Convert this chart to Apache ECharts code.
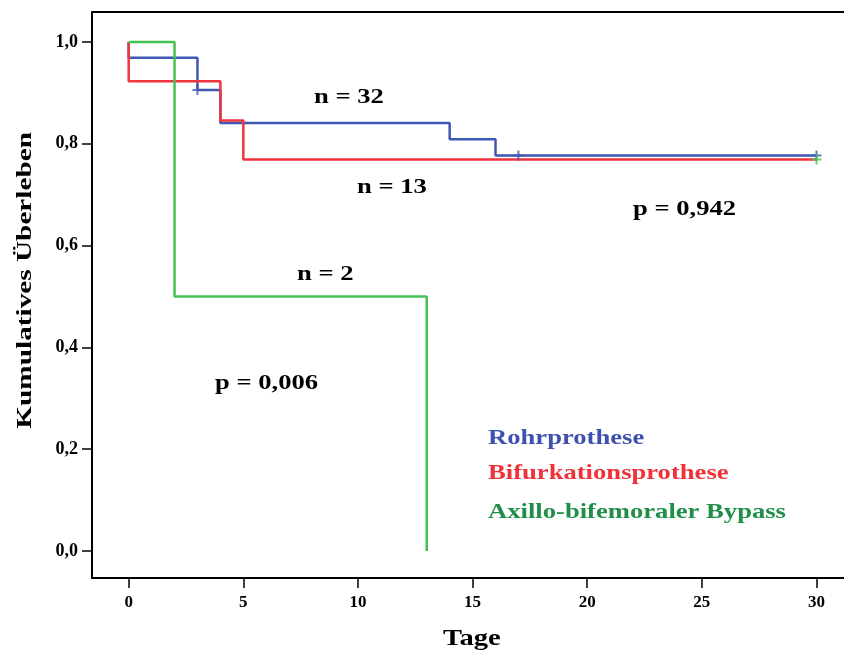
<!DOCTYPE html>
<html>
<head>
<meta charset="utf-8">
<script src="https://cdn.jsdelivr.net/npm/echarts@6/dist/echarts.min.js"></script>
<style>html,body{margin:0;padding:0;background:#fff}#c{width:844px;height:657px}</style>
</head>
<body>
<div id="c"></div>
<script>
// Kaplan-Meier step points [time (Tage), cumulative survival]
const rohrTimes = [0, 0, 3, 4, 14, 16, 30];
const rohrSurv  = [1, 0.969, 0.906, 0.841, 0.809, 0.777, 0.777];
const bifTimes  = [0, 0, 4, 5, 30];
const bifSurv   = [1, 0.923, 0.846, 0.769, 0.769];
const axTimes   = [0, 2, 13];
const axSurv    = [1, 0.5, 0];
// censored observations
const rohrCensorT = [3, 17, 30];
const rohrCensorS = [0.906, 0.777, 0.777];
const bifCensorT  = [30];
const bifCensorS  = [0.769];
const xTicks = [0, 5, 10, 15, 20, 25, 30];
const yTicks = [0, 0.2, 0.4, 0.6, 0.8, 1.0];
const groupNames = ['Rohrprothese', 'Bifurkationsprothese', 'Axillo-bifemoraler Bypass'];
const annotations = ['n = 32', 'n = 13', 'n = 2', 'p = 0,942', 'p = 0,006'];
const xTitle = 'Tage';
const yTitle = 'Kumulatives Überleben';

const zip = (a, b) => a.map((v, i) => [v, b[i]]);
const FONT = '"Liberation Serif", "Times New Roman", serif';
const cBlue = '#3f56b3', cRed = '#f0363c', cGreen = '#45c24f';
const plus = 'path://M4,0h2v4h4v2h-4v4h-2v-4h-4v-2h4z';

const chart = echarts.init(document.getElementById('c'));
const lineSeries = (data, color, z) => ({
  type: 'line', data, step: 'end', showSymbol: false, z,
  lineStyle: { color, width: 2.5 }, animation: false
});
const censor = (data, color) => ({
  type: 'scatter', data, symbol: plus, symbolSize: 10, z: 5,
  itemStyle: { color }, animation: false
});
const txt = (text, x, y, color, size, sx, rot) => ({
  type: 'text', left: x, top: y, scaleX: sx || 1.21, rotation: rot || 0,
  style: { text, fill: color, font: 'bold ' + size + 'px ' + FONT }
});

chart.setOption({
  backgroundColor: '#fff',
  grid: { left: 92, top: 12, right: 0, bottom: 79 },
  xAxis: [{
    type: 'value', min: -1.6, max: 31.2,
    axisLine: { onZero: false, lineStyle: { color: '#000', width: 2 } },
    axisTick: { customValues: xTicks, length: 10, lineStyle: { color: '#000', width: 1.5 } },
    axisLabel: { customValues: xTicks, margin: 16, fontFamily: FONT, fontWeight: 'bold', fontSize: 17, color: '#000' },
    splitLine: { show: false }
  }, {
    type: 'value', min: -1.6, max: 31.2, position: 'top',
    axisLine: { show: true, onZero: false, lineStyle: { color: '#000', width: 2 } },
    axisTick: { show: false }, axisLabel: { show: false }, splitLine: { show: false }
  }],
  yAxis: {
    type: 'value', min: -0.053, max: 1.059,
    axisLine: { show: true, onZero: false, lineStyle: { color: '#000', width: 2 } },
    axisTick: { show: true, customValues: yTicks, length: 10, lineStyle: { color: '#000', width: 1.5 } },
    axisLabel: { customValues: yTicks, margin: 14, fontFamily: FONT, fontWeight: 'bold', fontSize: 18, color: '#000',
      formatter: v => v.toFixed(1).replace('.', ',') },
    splitLine: { show: false }
  },
  series: [
    lineSeries(zip(rohrTimes, rohrSurv), cBlue, 2),
    lineSeries(zip(bifTimes, bifSurv), cRed, 3),
    lineSeries(zip(axTimes, axSurv), cGreen, 4),
    censor(zip(rohrCensorT, rohrCensorS), cBlue),
    censor(zip(bifCensorT, bifCensorS), cGreen)
  ],
  graphic: [
    txt(annotations[0], 314, 86, '#000', 22),
    txt(annotations[1], 357, 176, '#000', 22),
    txt(annotations[2], 297, 263, '#000', 22),
    txt(annotations[3], 633, 198, '#000', 22),
    txt(annotations[4], 215, 372, '#000', 22),
    txt(groupNames[0], 488, 427, '#3f51b0', 22),
    txt(groupNames[1], 488, 462, '#ef3139', 22),
    txt(groupNames[2], 488, 501, '#1f8f48', 22),
    txt(xTitle, 443, 627, '#000', 24, 1.19),
    txt(yTitle, 14, 132, '#000', 22, 1.33, Math.PI / 2)
  ]
});
</script>
</body>
</html>
